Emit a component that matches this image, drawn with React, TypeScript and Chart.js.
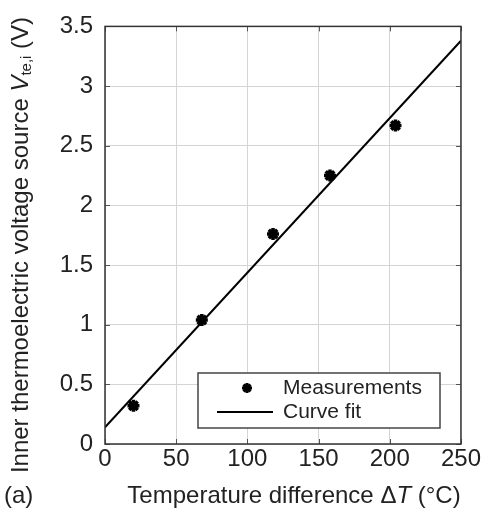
import React, { useEffect, useRef } from "react";
import { Chart, registerables } from "chart.js";

Chart.register(...registerables);

const tempDiff = [20, 68, 118, 158, 204];
const voltage = [0.32, 1.04, 1.76, 2.25, 2.67];
const fitX = [0, 250];
const fitY = [0.14, 3.38];
const xTicks = [0, 50, 100, 150, 200, 250];
const yTicks = [0, 0.5, 1, 1.5, 2, 2.5, 3, 3.5];
const legendLabels = ["Measurements", "Curve fit"];

const FONT = "'Liberation Sans', Arial, sans-serif";
const TS = 24;

const overlay = {
  id: "overlay",
  afterDraw(chart: any) {
    const ctx = chart.ctx;
    const area = chart.chartArea;
    const xs = chart.scales.x;
    const ys = chart.scales.y;
    ctx.save();
    // inner ticks
    ctx.strokeStyle = "#555";
    ctx.lineWidth = 1;
    const tl = 5;
    ctx.beginPath();
    for (const v of xTicks) {
      const px = Math.round(xs.getPixelForValue(v)) + 0.5;
      ctx.moveTo(px, area.bottom); ctx.lineTo(px, area.bottom - tl);
      ctx.moveTo(px, area.top); ctx.lineTo(px, area.top + tl);
    }
    for (const v of yTicks) {
      const py = Math.round(ys.getPixelForValue(v)) + 0.5;
      ctx.moveTo(area.left, py); ctx.lineTo(area.left + tl, py);
      ctx.moveTo(area.right, py); ctx.lineTo(area.right - tl, py);
    }
    ctx.stroke();
    // frame
    ctx.strokeStyle = "#333";
    ctx.lineWidth = 1.5;
    ctx.strokeRect(area.left, area.top, area.right - area.left, area.bottom - area.top);
    // legend
    const lx = 198, ly = 373, lw = 242, lh = 55;
    ctx.fillStyle = "#fff";
    ctx.fillRect(lx, ly, lw, lh);
    ctx.strokeStyle = "#444";
    ctx.lineWidth = 1.5;
    ctx.strokeRect(lx, ly, lw, lh);
    ctx.fillStyle = "#222";
    ctx.font = `21px ${FONT}`;
    ctx.textBaseline = "middle";
    ctx.textAlign = "left";
    ctx.fillText(legendLabels[0], 283, 388);
    ctx.fillText(legendLabels[1], 283, 412);
    // marker
    ctx.strokeStyle = "#000";
    ctx.lineWidth = 3;
    const mx = 247, my = 388, r = 5;
    ctx.beginPath();
    ctx.moveTo(mx - r, my); ctx.lineTo(mx + r, my);
    ctx.moveTo(mx, my - r); ctx.lineTo(mx, my + r);
    ctx.moveTo(mx - r * 0.7, my - r * 0.7); ctx.lineTo(mx + r * 0.7, my + r * 0.7);
    ctx.moveTo(mx - r * 0.7, my + r * 0.7); ctx.lineTo(mx + r * 0.7, my - r * 0.7);
    ctx.stroke();
    ctx.lineWidth = 2;
    ctx.beginPath();
    ctx.moveTo(217, 412); ctx.lineTo(273, 412);
    ctx.stroke();
    // x title
    ctx.fillStyle = "#222";
    ctx.textAlign = "left";
    ctx.textBaseline = "middle";
    ctx.font = `${TS}px ${FONT}`;
    ctx.fillText("(a)", 4, 496);
    const parts: [string, string][] = [
      ["Temperature difference Δ", "normal"],
      ["T", "italic"],
      [" (°C)", "normal"],
    ];
    let total = 0;
    for (const [t, s] of parts) {
      ctx.font = `${s} ${TS}px ${FONT}`;
      total += ctx.measureText(t).width;
    }
    let x = 294 - total / 2;
    for (const [t, s] of parts) {
      ctx.font = `${s} ${TS}px ${FONT}`;
      ctx.fillText(t, x, 496);
      x += ctx.measureText(t).width;
    }
    // y title
    ctx.translate(21, 245);
    ctx.rotate(-Math.PI / 2);
    const yparts: [string, string, number, number][] = [
      ["Inner thermoelectric voltage source ", "normal", TS, 0],
      ["V", "italic", TS, 0],
      ["te,i", "normal", 15, 6],
      [" (V)", "normal", TS, 0],
    ];
    let yt = 0;
    for (const [t, s, f] of yparts) {
      ctx.font = `${s} ${f}px ${FONT}`;
      yt += ctx.measureText(t).width;
    }
    let px = -yt / 2;
    for (const [t, s, f, dy] of yparts) {
      ctx.font = `${s} ${f}px ${FONT}`;
      ctx.fillText(t, px, dy);
      px += ctx.measureText(t).width;
    }
    ctx.restore();
  },
};

export default function App() {
  const ref = useRef<HTMLCanvasElement | null>(null);
  useEffect(() => {
    document.body.style.margin = "0";
    const chart = new Chart(ref.current!, {
      type: "scatter",
      data: {
        datasets: [
          {
            label: legendLabels[1],
            data: fitX.map((x, i) => ({ x, y: fitY[i] })),
            showLine: true,
            borderColor: "#000",
            borderWidth: 2,
            pointRadius: 0,
            order: 2,
          } as any,
          {
            label: legendLabels[0],
            data: tempDiff.map((x, i) => ({ x, y: voltage[i] })),
            pointStyle: "star",
            pointRadius: 6,
            borderColor: "#000",
            backgroundColor: "#000",
            borderWidth: 3.5,
            order: 1,
          },
        ],
      },
      options: {
        animation: false,
        responsive: false,
        layout: { padding: { left: 0, right: 21, top: 21, bottom: 0 } },
        plugins: { legend: { display: false }, tooltip: { enabled: false } },
        scales: {
          x: {
            type: "linear",
            min: 0,
            max: 250,
            afterBuildTicks: (s: any) => { s.ticks = xTicks.map((v) => ({ value: v })); },
            afterFit: (s: any) => { s.height = 68; },
            grid: { color: "#d4d4d4", lineWidth: 1, drawTicks: false },
            border: { display: false },
            ticks: { color: "#222", font: { family: FONT, size: TS }, padding: 1, maxRotation: 0, callback: (v: any) => String(v) },
          },
          y: {
            type: "linear",
            min: 0,
            max: 3.5,
            afterBuildTicks: (s: any) => { s.ticks = yTicks.map((v) => ({ value: v })); },
            afterFit: (s: any) => { s.width = 105; },
            grid: { color: "#d4d4d4", lineWidth: 1, drawTicks: false },
            border: { display: false },
            ticks: { color: "#222", font: { family: FONT, size: TS }, padding: 12, callback: (v: any) => String(v) },
          },
        },
      },
      plugins: [overlay],
    });
    return () => chart.destroy();
  }, []);
  return (
    <div style={{ position: "fixed", left: 0, top: 0, width: 482, height: 512, background: "#fff" }}>
      <canvas ref={ref} width={482} height={512} style={{ width: 482, height: 512 }} />
    </div>
  );
}
